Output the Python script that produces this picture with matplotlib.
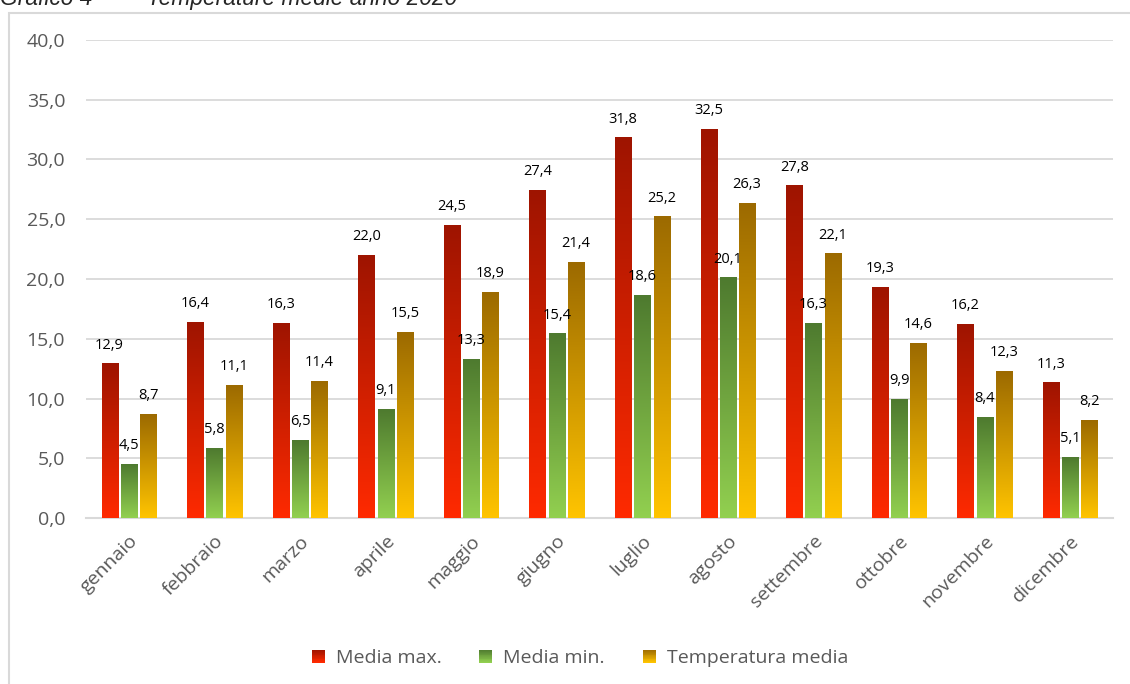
import numpy as np
import matplotlib
matplotlib.use("Agg")
import matplotlib.pyplot as plt
from matplotlib.colors import LinearSegmentedColormap, to_rgb
from matplotlib.patches import Rectangle, Patch
from matplotlib.legend_handler import HandlerBase

plt.rcParams['font.family'] = ['Open Sans', 'DejaVu Sans']

months = ["gennaio", "febbraio", "marzo", "aprile", "maggio", "giugno",
          "luglio", "agosto", "settembre", "ottobre", "novembre", "dicembre"]
media_max = [12.9, 16.4, 16.3, 22.0, 24.5, 27.4, 31.8, 32.5, 27.8, 19.3, 16.2, 11.3]
media_min = [4.5, 5.8, 6.5, 9.1, 13.3, 15.4, 18.6, 20.1, 16.3, 9.9, 8.4, 5.1]
temp_media = [8.7, 11.1, 11.4, 15.5, 18.9, 21.4, 25.2, 26.3, 22.1, 14.6, 12.3, 8.2]
series_names = ["Media max.", "Media min.", "Temperatura media"]
y_ticks = [0, 5, 10, 15, 20, 25, 30, 35, 40]

W, H = 1130, 684
fig = plt.figure(figsize=(W / 100, H / 100), dpi=100)
ax = fig.add_axes([86 / W, 1 - 518 / H, (1113 - 86) / W, (518 - 40) / H])

# outer chart frame (extends past right/bottom edges)
fig.patches.append(Rectangle((8.5 / W, -0.05), 1.2, (H - 13) / H + 0.05,
                             transform=fig.transFigure, fill=False,
                             edgecolor="#D9D9D9", linewidth=1.5))
# title, partly cut off at the top edge as in the reference
fig.text(0.0, 1 - 5 / H, "Grafico 4 \u2013", fontsize=16.4, style="italic",
         family="Liberation Sans", color="#262626", va="baseline", ha="left")
fig.text(147 / W, 1 - 5 / H, "Temperature medie anno 2020", fontsize=16.4,
         style="italic", family="Liberation Sans", color="#262626",
         va="baseline", ha="left")

grads = [("#9E1400", "#FF2A00"), ("#4E7A2F", "#92D050"), ("#9C6A00", "#FFC400")]
data = [media_max, media_min, temp_media]
x = np.arange(len(months))
bw = 0.187
step = 0.225
offsets = [-step, 0, step]

for s, (vals, (top_c, bot_c), off) in enumerate(zip(data, grads, offsets)):
    cmap = LinearSegmentedColormap.from_list("g%d" % s, [bot_c, top_c])
    bars = ax.bar(x + off, vals, width=bw, color=bot_c, zorder=2)
    for b, v in zip(bars, vals):
        b.set_alpha(0)
        grad = np.linspace(0, 1, 256).reshape(-1, 1)
        ax.imshow(grad, extent=(b.get_x(), b.get_x() + b.get_width(), 0, v),
                  origin="lower", cmap=cmap, aspect="auto", zorder=3)
        ax.annotate(("%.1f" % v).replace(".", ","),
                    (b.get_x() + b.get_width() / 2, v),
                    xytext=(0, 11), textcoords="offset points",
                    ha="center", va="baseline", fontsize=10.5, color="#000000",
                    zorder=5)

ax.set_xlim(-0.5, len(months) - 0.5)
ax.set_ylim(0, 40)
ax.set_yticks(y_ticks)
ax.set_yticklabels([("%.1f" % t).replace(".", ",") for t in y_ticks])
ax.set_xticks(x)
ax.set_xticklabels(months, rotation=45, ha="right", rotation_mode="anchor")
ax.tick_params(axis="both", length=0, colors="#595959")
ax.tick_params(axis="y", pad=15, labelsize=14)
ax.tick_params(axis="x", pad=10, labelsize=14)
ax.grid(axis="y", color="#D9D9D9", linewidth=1.3, zorder=0)
ax.set_axisbelow(True)
for side in ["top", "right", "left"]:
    ax.spines[side].set_visible(False)
ax.spines["bottom"].set_color("#D9D9D9")
ax.spines["bottom"].set_linewidth(1.5)


class GradHandler(HandlerBase):
    def __init__(self, top, bot):
        super().__init__()
        self.top = np.array(to_rgb(top))
        self.bot = np.array(to_rgb(bot))

    def create_artists(self, legend, orig_handle, xdescent, ydescent,
                       width, height, fontsize, trans):
        n = 16
        arts = []
        for i in range(n):
            f = i / (n - 1)
            c = self.bot * (1 - f) + self.top * f
            r = Rectangle((-xdescent, -ydescent + i * height / n), width,
                          height / n + 0.01, facecolor=c, edgecolor="none",
                          transform=trans)
            arts.append(r)
        return arts


handles = [Patch() for _ in grads]
hmap = {h: GradHandler(t, b) for h, (t, b) in zip(handles, grads)}
leg = fig.legend(handles, series_names, loc="center", ncol=3,
                 bbox_to_anchor=(580 / W, 1 - 658 / H), frameon=False,
                 fontsize=14, handlelength=0.67, handleheight=0.67,
                 columnspacing=1.95, handletextpad=0.57, handler_map=hmap)
for t in leg.get_texts():
    t.set_color("#595959")

fig.savefig("out.png", dpi=100)
